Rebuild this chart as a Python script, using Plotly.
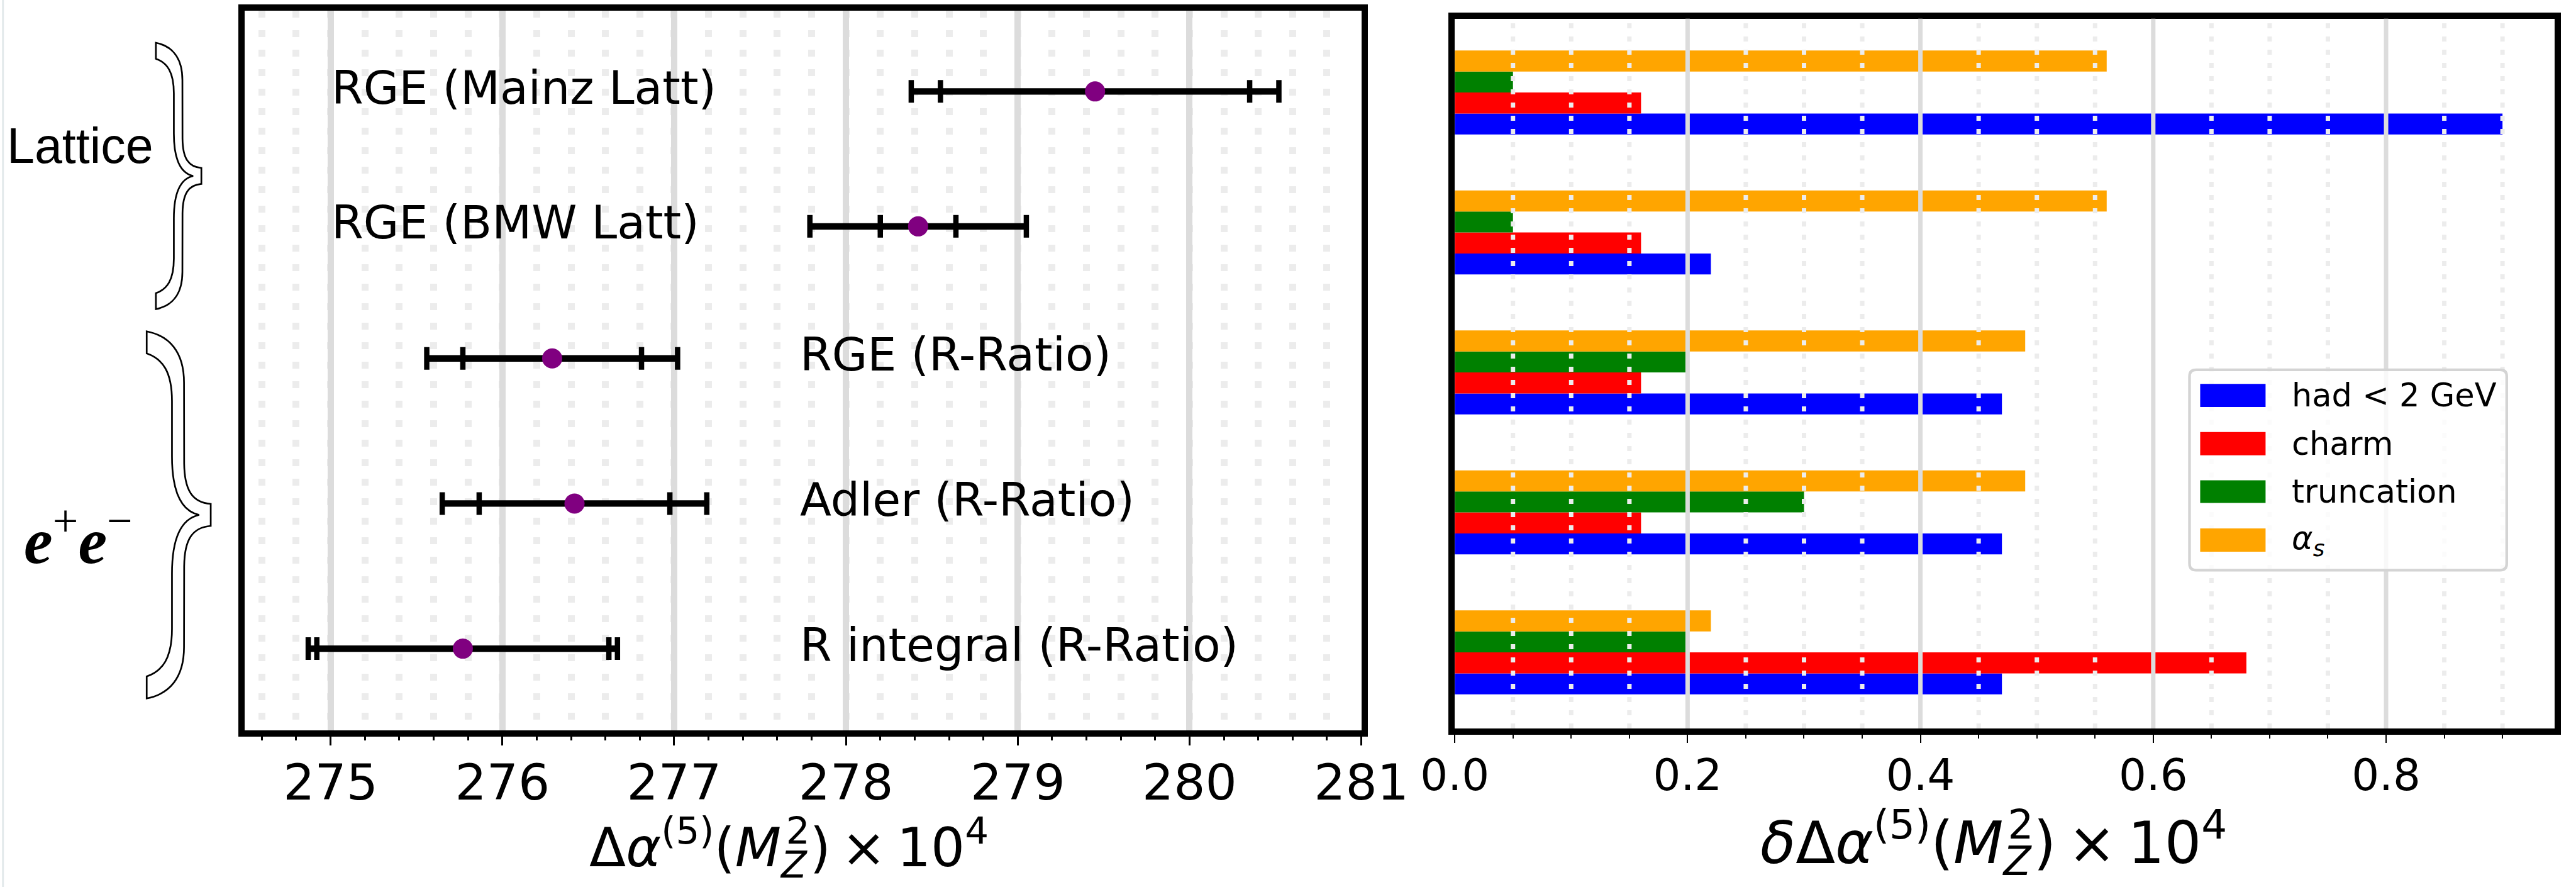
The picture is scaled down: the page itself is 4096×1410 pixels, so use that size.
import plotly.graph_objects as go

# ---------------- data ----------------
methods = ["RGE (Mainz Latt)", "RGE (BMW Latt)", "RGE (R-Ratio)",
           "Adler (R-Ratio)", "R integral (R-Ratio)"]
central = [279.45, 278.42, 276.29, 276.42, 275.77]
err_inner = [0.90, 0.22, 0.52, 0.555, 0.85]
err_outer = [1.07, 0.63, 0.73, 0.77, 0.90]

had_lt_2gev = [0.90, 0.22, 0.47, 0.47, 0.47]
charm = [0.16, 0.16, 0.16, 0.16, 0.68]
truncation = [0.05, 0.05, 0.20, 0.30, 0.20]
alpha_s = [0.56, 0.56, 0.49, 0.49, 0.22]

series_colors = ["#0000ff", "#ff0000", "#008000", "#ffa500"]
left_ticks = [275, 276, 277, 278, 279, 280, 281]
right_ticks = [0.0, 0.2, 0.4, 0.6, 0.8]


# ---------------- text helpers (raised / lowered text without <sup>/<sub>) ----------------
def sup(t, fs):
    return f"<span style='font-size:{0.7 * fs:.1f}px;baseline-shift:{0.42 * fs:.1f}px'>{t}</span>"


def sub(t, fs, ls=0):
    extra = f";letter-spacing:{ls}px" if ls else ""
    return (f"<span style='font-size:{0.7 * fs:.1f}px;baseline-shift:{-0.21 * fs:.1f}px{extra}'>"
            f"{t}</span>")


LEG_FS = 51
series_names = ["had &lt; 2 GeV", "charm", "truncation", "<i>α</i>" + sub("<i>s</i>", LEG_FS)]
series_values = [had_lt_2gev, charm, truncation, alpha_s]

EE_FS = 103
group_labels = ["Lattice",
                "<b><i>e</i></b>" + sup("+", EE_FS) + "<b><i>e</i></b>" + sup("−", EE_FS)]

TF_L, TF_R = 85, 92
left_title = ("Δ<i>α</i>" + sup("(5)", TF_L) + "(<i>M</i>" + sub("<i>Z</i>", TF_L, -33) +
              sup("2", TF_L) + ")\u2009×\u200910" + sup("4", TF_L))
right_title = ("<i>δ</i>Δ<i>α</i>" + sup("(5)", TF_R) + "(<i>M</i>" + sub("<i>Z</i>", TF_R, -37) +
               sup("2", TF_R) + ")\u2009×\u200910" + sup("4", TF_R))

# ---------------- layout helpers (positions, not data) ----------------
W, H = 4096, 1410
S = W / 4759.0
FONT = "DejaVu Sans"


def X(xr):
    return xr * S / W


def Y(yr):
    return 1 - yr * S / H


def Yo(yo):          # output px -> paper
    return 1 - yo / H


row_y = [4.84, 3.91, 3.0, 2.0, 1.0]        # row positions on left panel
text_x = [275.0, 275.0, 277.73, 277.73, 277.73]
bar_pos = [4, 3, 2, 1, 0]

LW = 9.5


def ydomain(top_r, bot_r, v_top, v_bot, lw):
    top, bot = top_r * S, bot_r * S
    ppu = (bot - top) / (v_top - v_bot)
    h = lw / 2
    return [1 - (bot - h) / H, 1 - (top + h) / H], [v_bot + h / ppu, v_top - h / ppu]


ldom_y, lrng_y = ydomain(14.5, 1354.5, 5.416, 0.416, LW)
rdom_y, rrng_y = ydomain(29, 1351, 4.549, -0.565, LW)
ldom_x = [X(452), X(2515)]
rdom_x = [X(2687.6), X(4720)]

fig = go.Figure()

# ---------------- left panel: error bars ----------------
lx, ly = [], []
for c, o, yy in zip(central, err_outer, row_y):
    lx += [c - o, c + o, None]
    ly += [yy, yy, None]
fig.add_trace(go.Scatter(x=lx, y=ly, mode="lines", line=dict(color="black", width=10.3),
                         xaxis="x", yaxis="y", showlegend=False, hoverinfo="skip"))
for errs in (err_outer, err_inner):
    fig.add_trace(go.Scatter(x=central, y=row_y, mode="markers",
                             marker=dict(size=1, color="rgba(0,0,0,0)"),
                             error_x=dict(type="data", array=errs, symmetric=True,
                                          color="black", thickness=8.5, width=18),
                             xaxis="x", yaxis="y", showlegend=False, hoverinfo="skip"))
fig.add_trace(go.Scatter(x=central, y=row_y, mode="markers",
                         marker=dict(size=32, color="#800080", line=dict(width=0)),
                         xaxis="x", yaxis="y", showlegend=False))

# ---------------- right panel: bars ----------------
for name, vals, col in zip(series_names, series_values, series_colors):
    fig.add_trace(go.Bar(x=vals, y=bar_pos, orientation="h", name=name,
                         marker=dict(color=col, line=dict(width=0)),
                         xaxis="x2", yaxis="y2", showlegend=False))

shapes = []
# right-panel grid drawn above the bars
k = 1
while k * 0.05 <= 0.9001:
    xv = round(k * 0.05, 2)
    major = (k % 4 == 0)
    shapes.append(dict(type="line", xref="x2", yref="y2 domain", x0=xv, x1=xv, y0=0, y1=1,
                       layer="above",
                       line=dict(color="#dcdcdc" if major else "#ececec", width=7,
                                 dash="solid" if major else "8px,13px")))
    k += 1

# faint line at left edge
shapes.append(dict(type="line", xref="paper", yref="paper", x0=X(5.5), x1=X(5.5), y0=0, y1=1,
                   line=dict(color="#e3e9eb", width=3), layer="below"))


# braces
def brace(x0, x1, y0, y1):
    def P(u, v):
        return f"{X(x0 + u * (x1 - x0)):.6f},{Y(y0 + v * (y1 - y0)):.6f}"
    d = "M" + P(0, 0)
    d += " C" + P(0.35, 0.012) + " " + P(0.583, 0.055) + " " + P(0.583, 0.14)
    d += " L" + P(0.585, 0.36)
    d += " C" + P(0.59, 0.435) + " " + P(0.72, 0.466) + " " + P(1, 0.47)
    d += " L" + P(1, 0.53)
    d += " C" + P(0.72, 0.534) + " " + P(0.59, 0.565) + " " + P(0.585, 0.64)
    d += " L" + P(0.583, 0.86)
    d += " C" + P(0.583, 0.945) + " " + P(0.35, 0.988) + " " + P(0, 1)
    d += " L" + P(0, 0.94)
    d += " C" + P(0.25, 0.925) + " " + P(0.395, 0.89) + " " + P(0.395, 0.81)
    d += " L" + P(0.395, 0.66)
    d += " C" + P(0.395, 0.56) + " " + P(0.55, 0.51) + " " + P(0.82, 0.5)
    d += " C" + P(0.55, 0.49) + " " + P(0.395, 0.44) + " " + P(0.395, 0.34)
    d += " L" + P(0.395, 0.19)
    d += " C" + P(0.395, 0.11) + " " + P(0.25, 0.075) + " " + P(0, 0.06)
    d += " Z"
    return d


for bx0, bx1, by0, by1 in [(288, 372, 79, 571), (271, 389.3, 612, 1290)]:
    shapes.append(dict(type="path", xref="paper", yref="paper", path=brace(bx0, bx1, by0, by1),
                       fillcolor="white", line=dict(color="black", width=2.7), layer="above"))


# custom legend
def rrect(x0, y0, x1, y1, r):
    def P(x, y):
        return f"{X(x):.6f},{Y(y):.6f}"
    return ("M" + P(x0 + r, y0) + " L" + P(x1 - r, y0) + " Q" + P(x1, y0) + " " + P(x1, y0 + r) +
            " L" + P(x1, y1 - r) + " Q" + P(x1, y1) + " " + P(x1 - r, y1) +
            " L" + P(x0 + r, y1) + " Q" + P(x0, y1) + " " + P(x0, y1 - r) +
            " L" + P(x0, y0 + r) + " Q" + P(x0, y0) + " " + P(x0 + r, y0) + " Z")


shapes.append(dict(type="path", xref="paper", yref="paper", path=rrect(4045, 683, 4631, 1053, 12),
                   fillcolor="rgba(255,255,255,0.8)", line=dict(color="#d4d4d4", width=4.3),
                   layer="above"))
handle_y = [(709, 751.7), (798, 841), (887, 929), (976, 1019)]
annotations = []
for (hy0, hy1), col, name in zip(handle_y, series_colors, series_names):
    shapes.append(dict(type="rect", xref="paper", yref="paper", x0=X(4064.7), x1=X(4185.5),
                       y0=Y(hy1), y1=Y(hy0), fillcolor=col, line=dict(width=0), layer="above"))
    annotations.append(dict(xref="paper", yref="paper", x=X(4231), y=Y((hy0 + hy1) / 2),
                            xanchor="left", yanchor="middle", text=name, showarrow=False,
                            font=dict(family=FONT, size=LEG_FS, color="black")))

# labels inside left panel
for m, tx, yy in zip(methods, text_x, row_y):
    annotations.append(dict(xref="x", yref="y", x=tx, y=yy, xanchor="left", yanchor="middle",
                            text=m, showarrow=False, yshift=6, xshift=-1,
                            font=dict(family=FONT, size=73, color="black")))


def ann_bottom(x_paper, baseline_out, text, size, family=FONT, xanchor="left", extra=0.236):
    return dict(xref="paper", yref="paper", x=x_paper,
                y=Yo(baseline_out + extra * size + 1), xanchor=xanchor, yanchor="bottom",
                text=text, showarrow=False, font=dict(family=family, size=size, color="black"))


# group labels
annotations.append(ann_bottom(9 / W, 302 * S, group_labels[0], 79, family="Liberation Sans",
                              extra=0.212))
annotations.append(ann_bottom(36 / W, 1032 * S + 8, group_labels[1], EE_FS,
                              family="Liberation Serif", extra=0.216))

# axis titles: bottom of the text box is set by the lowered Z
sub_extra = 0.21 + 0.7 * 0.236
annotations.append(ann_bottom(934.5 / W, 1377, left_title, TF_L, extra=sub_extra))
annotations.append(ann_bottom(2797 / W, 1372, right_title, TF_R, extra=sub_extra))

fig.update_layout(
    template="none",
    width=W, height=H, margin=dict(l=0, r=0, t=0, b=0, pad=0, autoexpand=False),
    paper_bgcolor="white", plot_bgcolor="white",
    font=dict(family=FONT, color="black"),
    barmode="group", bargap=0.4, bargroupgap=0,
    showlegend=False,
    xaxis=dict(domain=ldom_x, range=[274.5, 281], anchor="y", automargin=False,
               tickvals=left_ticks, ticktext=[str(t) for t in left_ticks],
               ticks="outside", ticklen=14, tickwidth=2.6, tickcolor="black",
               ticklabelstandoff=-9,
               tickfont=dict(family=FONT, size=79, color="black"),
               showline=True, linecolor="black", linewidth=LW, mirror=True,
               showgrid=True, gridcolor="#dcdcdc", gridwidth=9.5, zeroline=False,
               minor=dict(dtick=0.2, tick0=275, ticks="outside", ticklen=6, tickwidth=2.6,
                          tickcolor="black", showgrid=True, gridcolor="#ececec",
                          gridwidth=11, griddash="11px,20px")),
    yaxis=dict(domain=ldom_y, range=lrng_y, anchor="x", automargin=False,
               showticklabels=False, ticks="",
               showline=True, linecolor="black", linewidth=LW, mirror=True,
               showgrid=False, zeroline=False),
    xaxis2=dict(domain=rdom_x, range=[0, 0.945], anchor="y2", automargin=False,
                tickvals=right_ticks, ticktext=[f"{t:.1f}" for t in right_ticks],
                ticks="outside", ticklen=13, tickwidth=2.2, tickcolor="black",
                ticklabelstandoff=-8,
                tickfont=dict(family=FONT, size=69, color="black"),
                showline=True, linecolor="black", linewidth=LW, mirror=True,
                showgrid=False, zeroline=False,
                minor=dict(dtick=0.05, tick0=0, ticks="outside", ticklen=6, tickwidth=2.2,
                           tickcolor="black", showgrid=False)),
    yaxis2=dict(domain=rdom_y, range=rrng_y, anchor="x2", automargin=False,
                showticklabels=False, ticks="",
                showline=True, linecolor="black", linewidth=LW, mirror=True,
                showgrid=False, zeroline=False),
    shapes=shapes, annotations=annotations,
)

fig.write_html("out.html")
